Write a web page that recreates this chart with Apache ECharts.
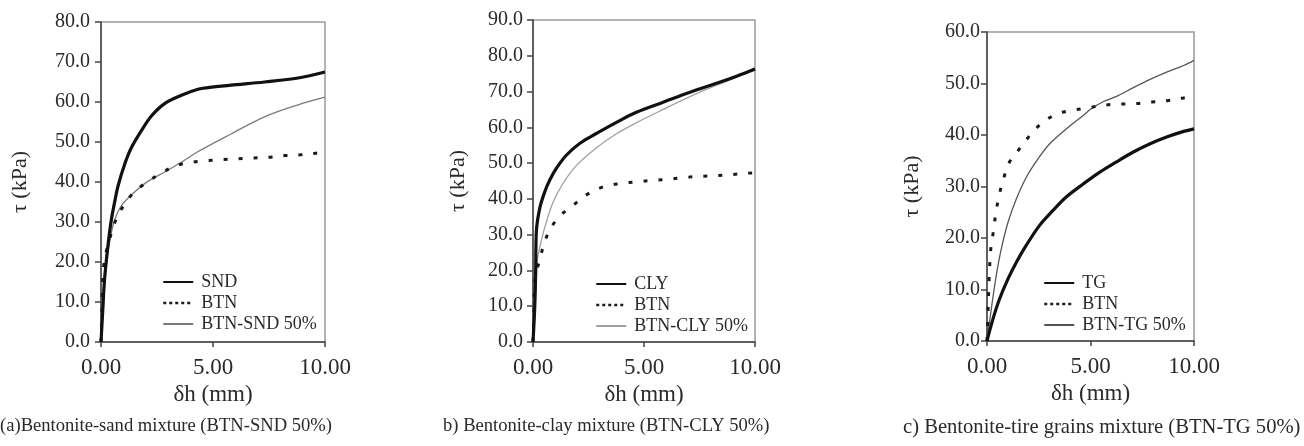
<!DOCTYPE html>
<html lang="en">
<head>
    <meta charset="UTF-8">
    <title>shear curves</title>
    <script type="text/javascript" src="https://cdn.jsdelivr.net/npm/echarts@6/dist/echarts.min.js"></script>
    <style>
        html, body { margin: 0; padding: 0; background: #fff; }
    </style>
</head>
<body>
<div id="main" style="width: 1304px;height: 446px;"></div>
<script type="text/javascript">
    // (a) bentonite - sand
    var sndA = [[0, 0], [0.08, 8], [0.15, 15], [0.25, 21], [0.35, 26], [0.46, 30.5], [0.61, 35], [0.76, 39], [1.06, 44.5], [1.35, 48.5],
        [1.8, 52.8], [2.25, 56.5], [2.84, 59.6], [3.59, 61.7], [4.33, 63.2], [4.78, 63.6], [5.8, 64.2], [7.3, 65], [8.8, 66], [10, 67.5]];
    var btnA = [[0, 0], [0.04, 8], [0.07, 15], [0.12, 19], [0.25, 23], [0.45, 27], [0.7, 31], [1.0, 34], [1.4, 37], [2.0, 39.8],
        [2.7, 42.2], [3.3, 44], [3.9, 44.8], [4.6, 45.3], [5.4, 45.6], [6.1, 45.8], [6.7, 46], [7.5, 46.2], [8.2, 46.6], [8.9, 46.8], [9.6, 47.2], [10, 47.3]];
    var mixA = [[0, 0], [0.1, 9], [0.2, 17], [0.3, 22], [0.45, 27], [0.61, 30.5], [0.9, 34], [1.35, 36.7], [1.95, 39.6], [2.84, 42.5],
        [3.6, 45], [4.3, 47.5], [5.8, 52], [7.3, 56.3], [8.8, 59.3], [10, 61.2]];

    // (b) bentonite - clay
    var clyB = [[0, 0], [0.08, 10], [0.12, 20], [0.15, 30.8], [0.3, 37.3], [0.53, 42], [0.75, 45.2], [1.05, 48.5], [1.5, 52.2], [2.1, 55.5],
        [2.86, 58.3], [3.76, 61.4], [4.66, 64.2], [5.86, 67], [7.07, 69.8], [8.27, 72.3], [9.17, 74.3], [10, 76.3]];
    var btnB = [[0, 0], [0.05, 10], [0.1, 18], [0.3, 22.9], [0.48, 27], [0.78, 31.7], [1.28, 35.6], [1.8, 38.2], [2.56, 41.7], [3.28, 43.6],
        [3.94, 44.3], [4.69, 44.8], [5.44, 45.2], [6.13, 45.5], [6.84, 46], [7.55, 46.3], [8.27, 46.5], [8.95, 46.8], [9.7, 47.2], [10, 47.3]];
    var mixB = [[0, 0], [0.08, 8], [0.15, 18], [0.2, 23], [0.38, 28.5], [0.6, 33.5], [0.9, 39], [1.35, 44.3], [1.95, 49.3], [2.86, 54.3],
        [3.76, 58.2], [4.66, 61.3], [5.86, 65], [7.07, 68.6], [8.27, 71.8], [9.17, 74], [10, 76]];

    // (c) bentonite - tire grains
    var tgC = [[0, 0], [0.29, 4.3], [0.61, 8.2], [1.02, 12.1], [1.42, 15.3], [1.9, 18.6], [2.55, 22.5], [3.2, 25.4], [3.84, 28], [4.65, 30.5],
        [5.45, 32.8], [6.26, 34.8], [7.07, 36.7], [7.88, 38.3], [8.68, 39.6], [9.5, 40.7], [10, 41.2]];
    var btnC = [[0, 0], [0.05, 6], [0.1, 12], [0.15, 16], [0.2, 18.5], [0.32, 21.5], [0.42, 24.7], [0.6, 28.5], [0.8, 31.5], [1.05, 34.5],
        [1.47, 36.8], [2.07, 39.9], [2.68, 42.4], [3.39, 44.1], [4.1, 44.8], [4.94, 45.3], [5.67, 45.8], [6.4, 46], [7.15, 46.1],
        [7.96, 46.4], [8.77, 46.7], [9.5, 47.2], [10, 47.3]];
    var mixC = [[0, 0], [0.21, 6.3], [0.45, 12.8], [0.69, 17.9], [1.02, 23.1], [1.42, 27.6], [1.9, 31.8], [2.47, 35.4], [3.03, 38.3], [3.84, 41.2],
        [4.65, 43.8], [5.0, 45], [5.63, 46.5], [6.26, 47.5], [7.07, 49.2], [7.88, 50.8], [8.68, 52.2], [9.5, 53.5], [10, 54.5]];

    var yMax = [80, 90, 60];
    var legendNames = [['SND', 'BTN', 'BTN-SND 50%'], ['CLY', 'BTN', 'BTN-CLY 50%'], ['TG', 'BTN', 'BTN-TG 50%']];
    var captions = ['(a)Bentonite-sand mixture (BTN-SND 50%)', 'b) Bentonite-clay mixture (BTN-CLY 50%)', 'c) Bentonite-tire grains mixture (BTN-TG 50%)'];
    var thinColors = ['#7a7a7a', '#a0a0a0', '#555555'];

    var font = '"Liberation Serif", "Times New Roman", serif';
    var textColor = '#2a2a2a';

    var grids = [
        {left: 101, top: 22, width: 224, height: 320},
        {left: 533, top: 20, width: 222, height: 322},
        {left: 987, top: 32, width: 207, height: 309}
    ];
    var labelMargins = [11, 10, 7];
    var nameGaps = [70, 64, 64];
    var legendPos = [[162, 273], [595, 275], [1043, 274]];
    var captionLeft = [0, 443, 903];
    var captionSize = [18.6, 18.6, 20.6];

    var panels = [[sndA, btnA, mixA], [clyB, btnB, mixB], [tgC, btnC, mixC]];

    var xAxes = [], yAxes = [], series = [], legends = [], titles = [];
    for (var i = 0; i < 3; i++) {
        grids[i].show = true;
        grids[i].borderColor = '#9a9a9a';
        grids[i].borderWidth = 1.5;
        xAxes.push({
            gridIndex: i, type: 'value', min: 0, max: 10, interval: 5,
            name: 'δh (mm)', nameLocation: 'middle', nameGap: 41,
            nameTextStyle: {fontFamily: font, fontSize: 23, color: textColor},
            axisLine: {lineStyle: {color: '#444', width: 1.5}},
            axisTick: {inside: false, length: 5, lineStyle: {color: '#444', width: 1.5}},
            axisLabel: {fontFamily: font, fontSize: 23, color: textColor, margin: 14,
                formatter: function (v) { return v.toFixed(2); }},
            splitLine: {show: false}
        });
        yAxes.push({
            gridIndex: i, type: 'value', min: 0, max: yMax[i], interval: 10,
            name: 'τ (kPa)', nameLocation: 'middle', nameGap: nameGaps[i],
            nameTextStyle: {fontFamily: font, fontSize: 22, color: textColor},
            axisLine: {lineStyle: {color: '#444', width: 1.5}},
            axisTick: {inside: false, length: 6, lineStyle: {color: '#444', width: 1.5}},
            axisLabel: {fontFamily: font, fontSize: 20, color: textColor, margin: labelMargins[i],
                formatter: function (v) { return v.toFixed(1); }},
            splitLine: {show: false}
        });
        var d = panels[i];
        series.push({
            name: legendNames[i][2], type: 'line', xAxisIndex: i, yAxisIndex: i, data: d[2],
            symbol: 'none', smooth: 0.35, z: 2,
            itemStyle: {color: thinColors[i]},
            lineStyle: {color: thinColors[i], width: 1.3}
        });
        series.push({
            name: legendNames[i][1], type: 'line', xAxisIndex: i, yAxisIndex: i, data: d[1],
            symbol: 'none', smooth: 0.35, z: 3,
            itemStyle: {color: '#1a1a1a'},
            lineStyle: {color: '#1a1a1a', width: 3, type: [4, 11]}
        });
        series.push({
            name: legendNames[i][0], type: 'line', xAxisIndex: i, yAxisIndex: i, data: d[0],
            symbol: 'none', smooth: 0.35, z: 4,
            itemStyle: {color: '#111'},
            lineStyle: {color: '#111', width: 3.2}
        });
        legends.push({
            orient: 'vertical', left: legendPos[i][0], top: legendPos[i][1], padding: 0,
            itemWidth: 30, itemHeight: 14, itemGap: 3,
            itemStyle: {opacity: 0},
            textStyle: {fontFamily: font, fontSize: 18, color: textColor, padding: [0, 0, 0, 3]},
            selectedMode: false,
            data: [
                {name: legendNames[i][0]},
                {name: legendNames[i][1], lineStyle: {type: [3, 3], width: 2.5}},
                {name: legendNames[i][2]}
            ]
        });
        titles.push({
            text: captions[i], left: captionLeft[i], top: 417, padding: 0,
            textStyle: {fontFamily: font, fontSize: captionSize[i], fontWeight: 'normal', color: textColor}
        });
    }

    var myChart = echarts.init(document.getElementById('main'));
    myChart.setOption({
        backgroundColor: '#fff',
        animation: false,
        title: titles,
        legend: legends,
        grid: grids,
        xAxis: xAxes,
        yAxis: yAxes,
        series: series
    });
</script>
</body>
</html>
